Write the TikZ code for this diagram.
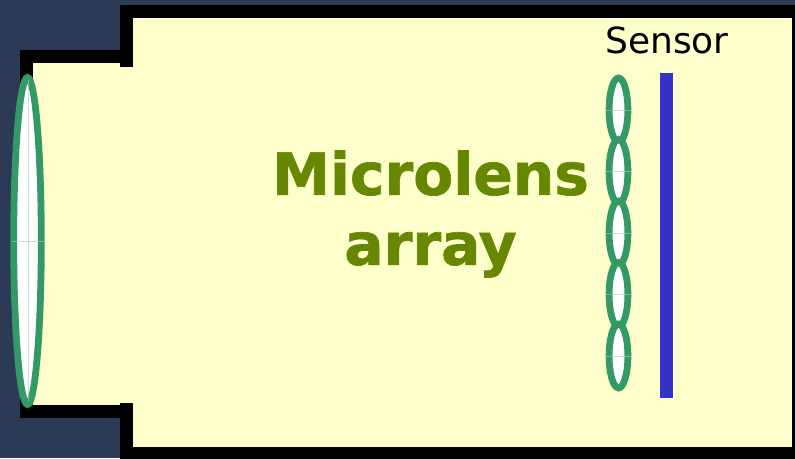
\documentclass[tikz,border=0pt]{standalone}
\usepackage{fontspec}
\setmainfont[BoldFeatures={FakeBold=1.2}]{DejaVu Sans}
\usepackage{xcolor}
\usetikzlibrary{positioning}
\definecolor{slate}{HTML}{2B3A55}
\definecolor{cream}{HTML}{FFFFCC}
\definecolor{lensgreen}{HTML}{339966}
\definecolor{sensorblue}{HTML}{3333CC}
\definecolor{olive}{HTML}{668800}
\tikzset{
  wall/.style={draw=black,line width=9.75pt,line join=miter},
  lens/.style={draw=lensgreen,fill=white,line width=5.1pt},
  tick/.style={draw=lightgray,line width=.3pt,opacity=.6}
}

\begin{document}
\begin{tikzpicture}[x=.75pt,y=-.75pt]
  \useasboundingbox (0,0) rectangle (795,458);
  \fill[slate] (0,0) rectangle (795,458);
  % camera body
  \fill[cream] (126,11) -- (798,11) -- (798,454) -- (126,454) -- (126,411) -- (26,411) -- (26,57) -- (126,57) -- cycle;
  \begin{scope}
    \clip (0,0) rectangle (795,458);
    \draw[wall] (126.5,67) -- (126.5,11.5) -- (798.5,11.5) -- (798.5,453.5) -- (126.5,453.5) -- (126.5,403);
    \draw[wall] (126.5,56.5) -- (26.5,56.5) -- (26.5,411.5) -- (126.5,411.5);
  \end{scope}
  % main lens
  \draw[lens] (27.5,241) ellipse [x radius=13.8,y radius=163.5];
  \draw[tick] (28,80) -- (28,402);
  \draw[tick] (12,241) -- (44,241);
  % microlenses
  \foreach \y in {110,171.5,233,294.5,356} {
    \draw[lens] (618.5,\y) ellipse [x radius=9.4,y radius=32];
    \draw[tick] (606,\y) -- (631,\y);
  }
  % sensor
  \fill[sensorblue] (660,73) rectangle (673,398);
  \node[font=\fontsize{27}{30}\selectfont,anchor=base] (sensor) at (667,53) {Sensor};
  \node[font=\fontsize{43.7}{52.5}\selectfont\bfseries,text=olive,align=center] (label) at (430.5,214) {Microlens\\array};
\end{tikzpicture}
\end{document}
